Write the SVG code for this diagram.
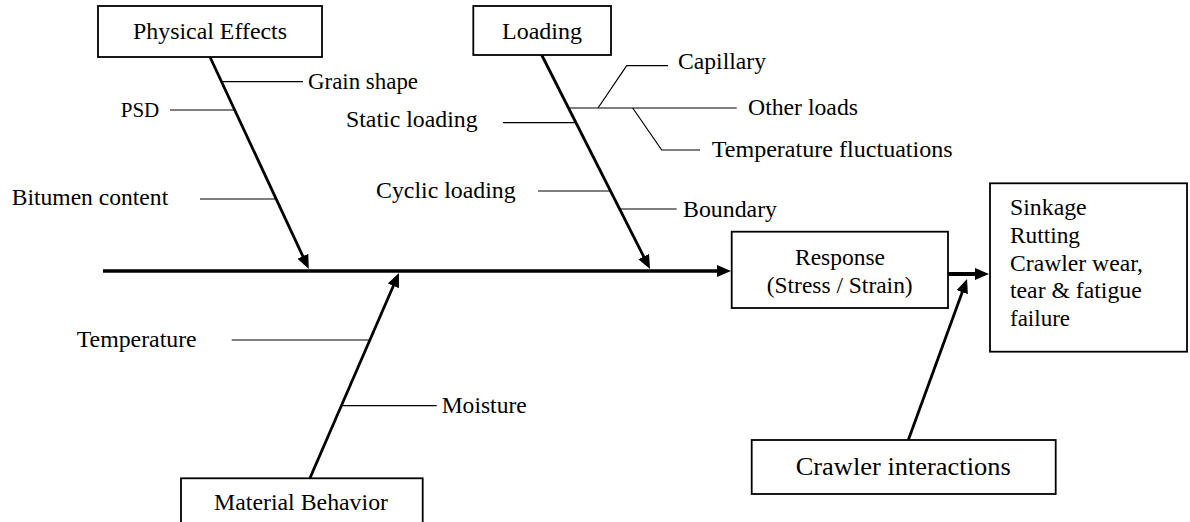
<svg xmlns="http://www.w3.org/2000/svg" width="1190" height="522" viewBox="0 0 1190 522">
<style>
text{font-family:"Liberation Serif","Times New Roman",serif;font-size:22.5px;fill:#000}
.box{fill:#fff;stroke:#000;stroke-width:1.8}
.br{fill:none;stroke:#000;stroke-width:1.2}
.ar{fill:none;stroke:#000;stroke-width:2.8}
</style>
<defs>
<marker id="ah" viewBox="0 0 14 12" refX="6" refY="6" markerWidth="14" markerHeight="12" markerUnits="userSpaceOnUse" orient="auto">
<path d="M0,0 L14,6 L0,12 z" fill="#000"/>
</marker>
</defs>
<g id="connectors">
<line x1="103" y1="271" x2="723" y2="271" stroke="#000" stroke-width="3.6" marker-end="url(#ah)"/>
<line class="ar" x1="210" y1="57" x2="305.4" y2="261.7" marker-end="url(#ah)"/>
<line class="ar" x1="541.7" y1="55" x2="646.4" y2="261.9" marker-end="url(#ah)"/>
<line class="ar" x1="310" y1="478" x2="395.8" y2="280.3" marker-end="url(#ah)"/>
<line x1="948" y1="274" x2="981" y2="274" stroke="#000" stroke-width="4" marker-end="url(#ah)"/>
<line class="ar" x1="908.3" y1="440" x2="964.3" y2="286.5" marker-end="url(#ah)"/>
<line class="br" x1="222" y1="81.7" x2="303" y2="81.7"/>
<line class="br" x1="170" y1="110" x2="234" y2="110"/>
<line class="br" x1="200" y1="199" x2="276" y2="199"/>
<line class="br" x1="503" y1="122.7" x2="575" y2="122.7"/>
<line class="br" x1="538" y1="191" x2="610" y2="191"/>
<line class="br" x1="620" y1="209" x2="676.7" y2="209"/>
<line class="br" x1="568.5" y1="108" x2="736.7" y2="108"/>
<polyline class="br" points="598,108 626.7,65.7 668,65.7"/>
<polyline class="br" points="632.7,108 661.7,150 700,150"/>
<line class="br" x1="231.7" y1="340" x2="369.5" y2="340"/>
<line class="br" x1="341.5" y1="405.7" x2="436.7" y2="405.7"/>
</g>
<g id="physical-effects">
<rect class="box" x="98" y="6" width="224" height="51"/>
<text x="133" y="39" textLength="154" lengthAdjust="spacingAndGlyphs">Physical Effects</text>
</g>
<g id="loading">
<rect class="box" x="473.3" y="6" width="137.7" height="49"/>
<text x="502" y="39" textLength="80" lengthAdjust="spacingAndGlyphs">Loading</text>
</g>
<g id="material-behavior">
<rect class="box" x="181" y="478.3" width="241.7" height="60"/>
<text x="214" y="510" textLength="174" lengthAdjust="spacingAndGlyphs">Material Behavior</text>
</g>
<g id="response">
<rect class="box" x="731.7" y="231.7" width="216.3" height="76.3"/>
<text x="795" y="265" textLength="90" lengthAdjust="spacingAndGlyphs">Response</text>
<text x="766.7" y="293" textLength="146" lengthAdjust="spacingAndGlyphs">(Stress / Strain)</text>
</g>
<g id="results">
<rect class="box" x="990" y="183.3" width="197" height="168.4"/>
<text x="1010" y="215" textLength="76.7" lengthAdjust="spacingAndGlyphs">Sinkage</text>
<text x="1010" y="243" textLength="70" lengthAdjust="spacingAndGlyphs">Rutting</text>
<text x="1010" y="270.5" textLength="133" lengthAdjust="spacingAndGlyphs">Crawler wear,</text>
<text x="1010" y="298" textLength="131.7" lengthAdjust="spacingAndGlyphs">tear &amp; fatigue</text>
<text x="1010" y="326" textLength="60" lengthAdjust="spacingAndGlyphs">failure</text>
</g>
<g id="crawler-interactions">
<rect class="box" x="751.7" y="440" width="304" height="54"/>
<text x="795.7" y="475" style="font-size:25.5px" textLength="215" lengthAdjust="spacingAndGlyphs">Crawler interactions</text>
</g>
<g id="labels">
<text x="308" y="89" textLength="110" lengthAdjust="spacingAndGlyphs">Grain shape</text>
<text x="120.7" y="117" style="font-size:20px" textLength="38.6" lengthAdjust="spacingAndGlyphs">PSD</text>
<text x="11.7" y="205" textLength="156.5" lengthAdjust="spacingAndGlyphs">Bitumen content</text>
<text x="346" y="126.5" textLength="131.7" lengthAdjust="spacingAndGlyphs">Static loading</text>
<text x="376" y="198" textLength="139.7" lengthAdjust="spacingAndGlyphs">Cyclic loading</text>
<text x="678" y="69" textLength="88" lengthAdjust="spacingAndGlyphs">Capillary</text>
<text x="748" y="115" textLength="110" lengthAdjust="spacingAndGlyphs">Other loads</text>
<text x="711.7" y="157" textLength="241" lengthAdjust="spacingAndGlyphs">Temperature fluctuations</text>
<text x="683" y="217" textLength="94" lengthAdjust="spacingAndGlyphs">Boundary</text>
<text x="76.7" y="347" textLength="120" lengthAdjust="spacingAndGlyphs">Temperature</text>
<text x="441.7" y="413" textLength="85" lengthAdjust="spacingAndGlyphs">Moisture</text>
</g>
</svg>
